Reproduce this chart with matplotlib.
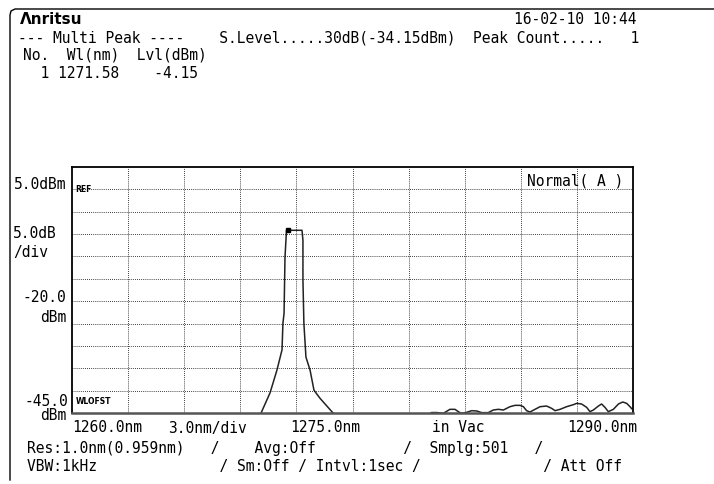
import matplotlib
matplotlib.use("Agg")
import matplotlib.pyplot as plt
from matplotlib.lines import Line2D

# trace (nm, dBm)
wavelength = [1260.0, 1269.5, 1270.11, 1270.59, 1270.96, 1271.23, 1271.28, 1271.34,
              1271.39, 1271.47, 1272.30, 1272.35, 1272.35, 1272.40, 1272.51, 1272.73,
              1272.94, 1273.26, 1273.96, 1275.0, 1278.0, 1279.1,
              1279.23, 1279.50, 1279.86, 1280.21, 1280.48, 1280.71, 1280.84, 1281.11,
              1281.37, 1281.64, 1281.91, 1282.26, 1282.53, 1282.80, 1283.07, 1283.42,
              1283.69, 1283.96, 1284.14, 1284.31, 1284.49, 1284.76, 1285.03, 1285.38,
              1285.65, 1285.83, 1286.10, 1286.45, 1286.81, 1286.99, 1287.25, 1287.52,
              1287.70, 1287.88, 1288.15, 1288.32, 1288.50, 1288.68, 1288.95, 1289.22,
              1289.45, 1289.66, 1289.84, 1289.93]
level = [-55.0, -50.0, -45.0, -40.5, -35.4, -30.9, -24.9, -22.7,
         -10.2, -4.15, -4.15, -6.4, -15.3, -24.9, -32.5, -35.4,
         -39.9, -41.7, -45.0, -47.0, -48.0, -45.3,
         -44.9, -44.9, -45.07, -44.18, -44.18, -44.85, -45.07, -44.85,
         -44.48, -44.55, -44.92, -44.92, -44.33, -44.18, -44.33, -43.59,
         -43.29, -43.29, -43.59, -44.48, -44.78, -44.18, -43.59, -43.44,
         -43.96, -44.48, -44.18, -43.59, -43.14, -42.84, -42.99, -43.73,
         -44.70, -44.33, -43.44, -42.99, -43.73, -44.70, -44.18, -42.99,
         -42.54, -42.84, -43.59, -44.03]

peak_wl = 1271.55
peak_lvl = -4.15

x_start, x_stop, x_div = 1260.0, 1290.0, 3.0
y_ref, y_div, y_bottom = 5.0, 5.0, -45.0

W, H = 714, 484
fig = plt.figure(figsize=(W / 100, H / 100), dpi=100)
fig.patch.set_facecolor("white")

ax = fig.add_axes([72 / W, 1 - 413 / H, (633 - 72) / W, (413 - 167) / H])
ax.plot(wavelength, level, color="#222222", lw=1.1)
ax.plot([peak_wl], [peak_lvl], marker="s", ms=2.5, color="black")
ax.set_xlim(x_start, x_stop)
ax.set_ylim(y_bottom, y_ref + y_div)

for k in range(1, 10):
    ax.axvline(x_start + k * x_div, color="black", lw=0.6, ls=(0, (1, 1.5)))
for k in range(0, 10):
    ax.axhline(y_ref - k * y_div, color="black", lw=0.6, ls=(0, (1, 1.5)))

ax.set_xticks([])
ax.set_yticks([])
for s in ax.spines.values():
    s.set_linewidth(1.3)
    s.set_color("black")
ax.spines["bottom"].set_linewidth(1.8)
ax.spines["bottom"].set_color("#555555")

ax.text(0.006, y_ref, "REF", fontsize=5.5, fontweight="bold", va="center",
        transform=ax.get_yaxis_transform())
ax.text(0.006, 0.03, "WLOFST", fontsize=5.5, fontweight="bold", va="bottom",
        transform=ax.transAxes)
ax.text(0.982, 0.945, "Normal( A )", fontsize=10.5, family="DejaVu Sans Mono",
        ha="right", va="center", transform=ax.transAxes)

mono = "DejaVu Sans Mono"


def put(x, y, s, ha="left", size=10.5, **kw):
    fig.text(x / W, 1 - y / H, s, ha=ha, va="center", fontsize=size,
             family=mono, **kw)


# screen frame
fig.add_artist(Line2D([10 / W, 10 / W, 11 / W, 15 / W, 1.0],
                      [1 - 480 / H, 1 - 15 / H, 1 - 11 / H, 1 - 9 / H, 1 - 9 / H],
                      color="black", lw=1.0))

# header
fig.text(20 / W, 1 - 19 / H, "Λnritsu", fontsize=11, fontweight="bold",
         family="DejaVu Sans", va="center")
put(637, 20, "16-02-10 10:44", ha="right")
put(18, 38, "--- Multi Peak ----    S.Level.....30dB(-34.15dBm)  Peak Count.....   1")
put(23, 55, "No.  Wl(nm)  Lvl(dBm)")
put(23, 73, "  1 1271.58    -4.15")

# level scale
put(66, 184, "5.0dBm", ha="right")
put(13, 233, "5.0dB")
put(13, 253, "/div")
put(66, 297, "-20.0", ha="right")
put(66, 318, "dBm", ha="right")
put(68, 402, "-45.0", ha="right")
put(66, 416, "dBm", ha="right")

# wavelength scale
put(72, 428, "1260.0nm")
put(168, 428, "3.0nm/div")
put(290, 428, "1275.0nm")
put(432, 428, "in Vac")
put(637, 428, "1290.0nm", ha="right")

# settings
put(27, 449, "Res:1.0nm(0.959nm)   /    Avg:Off          /  Smplg:501   /")
put(27, 466, "VBW:1kHz              / Sm:Off / Intvl:1sec /              / Att Off")

fig.savefig("out.png", dpi=100)
